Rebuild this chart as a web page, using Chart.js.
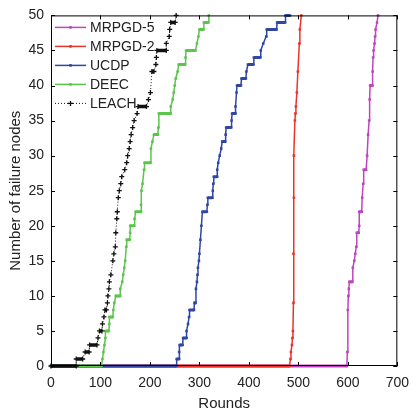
<!DOCTYPE html>
<html>
<head>
<meta charset="utf-8">
<script src="https://cdn.jsdelivr.net/npm/chart.js@4.4.1/dist/chart.umd.min.js"></script>
<style>
  html, body { margin: 0; padding: 0; background: #fff; }
  #wrap { width: 418px; height: 413px; }
</style>
</head>
<body>
<div id="wrap"><canvas id="grafico" width="418" height="413"></canvas></div>
<script>
// series: rounds where the count changes, and the number of failed nodes
const seriesNames = ["MRPGD-5", "MRPGD-2", "UCDP", "DEEC", "LEACH"];

const mrpgd5Rounds = [0, 598, 599, 600, 601, 602, 603, 609, 610, 613, 615, 617, 618, 622, 623, 623, 628, 629, 631, 632, 637, 639, 641, 643, 644, 645, 650, 650, 651, 652, 654, 655, 656, 659, 661];
const mrpgd5Failed = [0, 0, 2, 8, 10, 11, 12, 12, 14, 15, 16, 17, 19, 19, 20, 22, 22, 24, 26, 28, 28, 30, 33, 35, 38, 40, 40, 42, 44, 45, 46, 47, 48, 49, 50];

const mrpgd2Rounds = [0, 482, 484, 485, 487, 488, 489, 490, 490, 491, 491, 493, 494, 495, 497, 499, 502, 503, 506];
const mrpgd2Failed = [0, 0, 1, 2, 3, 4, 5, 9, 16, 24, 30, 35, 36, 37, 39, 42, 46, 48, 50];

const ucdpRounds = [0, 253, 254, 259, 259, 260, 266, 267, 274, 274, 277, 279, 280, 289, 290, 292, 293, 295, 296, 297, 299, 300, 302, 304, 306, 315, 316, 317, 326, 327, 328, 329, 336, 336, 338, 341, 344, 346, 352, 353, 354, 364, 365, 366, 373, 373, 375, 376, 384, 385, 394, 395, 398, 409, 410, 423, 424, 429, 435, 436, 456, 457, 473, 474, 483];
const ucdpFailed = [0, 0, 1, 1, 2, 3, 3, 4, 4, 5, 6, 7, 8, 8, 9, 9, 11, 12, 13, 14, 15, 16, 18, 20, 22, 22, 23, 24, 24, 25, 26, 27, 27, 28, 29, 30, 31, 32, 32, 33, 34, 34, 35, 36, 36, 37, 39, 40, 40, 41, 41, 42, 43, 43, 44, 44, 45, 46, 47, 48, 48, 49, 49, 50, 50];

const deecRounds = [0, 102, 104, 106, 108, 110, 110, 117, 118, 118, 125, 126, 128, 131, 140, 140, 144, 146, 148, 150, 152, 153, 159, 160, 160, 168, 169, 171, 182, 182, 183, 185, 188, 189, 201, 202, 205, 208, 216, 217, 218, 242, 242, 246, 248, 250, 252, 256, 258, 271, 272, 273, 292, 295, 298, 300, 308, 309, 318, 319];
const deecFailed = [0, 0, 1, 2, 3, 4, 5, 5, 6, 7, 7, 8, 9, 10, 10, 11, 12, 13, 14, 15, 17, 18, 18, 19, 20, 20, 21, 22, 22, 23, 25, 26, 28, 29, 29, 31, 32, 33, 33, 34, 36, 36, 37, 38, 39, 40, 41, 42, 43, 43, 44, 45, 45, 46, 47, 48, 48, 49, 49, 50];

const leachRounds = [0, 51, 51, 64, 69, 77, 78, 93, 95, 98, 103, 104, 107, 109, 112, 114, 115, 117, 118, 121, 125, 127, 130, 131, 133, 134, 136, 138, 141, 143, 149, 153, 155, 158, 160, 162, 165, 168, 174, 176, 193, 197, 201, 204, 208, 212, 213, 214, 233, 233, 239, 240, 242, 251, 253];
const leachFailed = [0, 0, 1, 1, 2, 2, 3, 3, 4, 5, 5, 6, 7, 8, 8, 9, 10, 11, 12, 13, 15, 16, 17, 19, 21, 22, 24, 25, 26, 27, 28, 29, 30, 31, 32, 33, 34, 35, 36, 37, 37, 38, 39, 42, 42, 43, 44, 45, 45, 46, 47, 48, 49, 49, 50];

const xTicks = [0, 100, 200, 300, 400, 500, 600, 700];
const yTicks = [0, 5, 10, 15, 20, 25, 30, 35, 40, 45, 50];

function puntos(rounds, failed) {
  return rounds.map((r, i) => ({ x: r, y: failed[i] }));
}

const fuente = '"Liberation Sans", Arial, sans-serif';

// thicker plateaus, like the dense markers of the original
function plano(ancho, normal) {
  return ctx => ctx.p0.parsed.y === ctx.p1.parsed.y ? ancho : normal;
}

function serie(label, rounds, failed, color, orden, extra) {
  return Object.assign({
    label,
    data: puntos(rounds, failed),
    borderColor: color,
    backgroundColor: color,
    borderWidth: 1.5,
    pointStyle: "rect",
    pointRadius: 1.8,
    pointBorderWidth: 0,
    pointBackgroundColor: color,
    tension: 0,
    order: orden,
    clip: 4,
    segment: { borderWidth: plano(3, 1.5) }
  }, extra || {});
}

const datasets = [
  serie(seriesNames[0], mrpgd5Rounds, mrpgd5Failed, "#bf45bf", 5),
  serie(seriesNames[1], mrpgd2Rounds, mrpgd2Failed, "#e8352b", 4),
  serie(seriesNames[2], ucdpRounds, ucdpFailed, "#2f46a3", 3),
  serie(seriesNames[3], deecRounds, deecFailed, "#5cc44c", 2),
  serie(seriesNames[4], leachRounds, leachFailed, "#111111", 1, {
    borderWidth: 1,
    borderDash: [1, 2],
    pointStyle: "cross",
    pointRadius: 2.5,
    pointBorderWidth: 1.3,
    pointBorderColor: "#111111",
    segment: {
      borderWidth: plano(3.5, 1),
      borderDash: ctx => ctx.p0.parsed.y === ctx.p1.parsed.y ? [] : [1, 2]
    }
  })
];

// box with inward ticks on all four sides
const marco = {
  id: "marco",
  afterDraw(chart) {
    const { ctx, chartArea: a, scales } = chart;
    ctx.save();
    ctx.strokeStyle = "#000";
    ctx.lineWidth = 1;
    ctx.strokeRect(a.left + 0.5, a.top + 0.5, a.right - a.left - 1, a.bottom - a.top - 1);
    ctx.beginPath();
    xTicks.forEach(v => {
      const x = Math.round(scales.x.getPixelForValue(v)) + 0.5;
      ctx.moveTo(x, a.bottom); ctx.lineTo(x, a.bottom - 4);
      ctx.moveTo(x, a.top); ctx.lineTo(x, a.top + 4);
    });
    yTicks.forEach(v => {
      const y = Math.round(scales.y.getPixelForValue(v)) + 0.5;
      ctx.moveTo(a.left, y); ctx.lineTo(a.left + 4, y);
      ctx.moveTo(a.right, y); ctx.lineTo(a.right - 4, y);
    });
    ctx.stroke();
    ctx.restore();
  }
};

// legend in the upper left corner of the plot
const leyenda = {
  id: "leyenda",
  afterDraw(chart) {
    const { ctx, chartArea: a } = chart;
    ctx.save();
    ctx.font = "14px " + fuente;
    ctx.textBaseline = "middle";
    chart.data.datasets.forEach((ds, i) => {
      const y = a.top + 12 + i * 19;
      const x0 = a.left + 4, x1 = a.left + 35, xm = (x0 + x1) / 2;
      ctx.strokeStyle = ds.borderColor;
      ctx.lineWidth = ds.pointStyle === "cross" ? 1 : 1.5;
      ctx.setLineDash(ds.pointStyle === "cross" ? [1, 2] : []);
      ctx.beginPath();
      ctx.moveTo(x0, y); ctx.lineTo(x1, y);
      ctx.stroke();
      ctx.setLineDash([]);
      if (ds.pointStyle === "cross") {
        ctx.lineWidth = 1.3;
        ctx.beginPath();
        ctx.moveTo(xm - 2.5, y); ctx.lineTo(xm + 2.5, y);
        ctx.moveTo(xm, y - 2.5); ctx.lineTo(xm, y + 2.5);
        ctx.stroke();
      } else {
        ctx.fillStyle = ds.borderColor;
        ctx.fillRect(xm - 1.3, y - 1.3, 2.6, 2.6);
      }
      ctx.fillStyle = "#222";
      ctx.fillText(ds.label, a.left + 39, y + 0.5);
    });
    ctx.restore();
  }
};

new Chart(document.getElementById("grafico").getContext("2d"), {
  type: "line",
  data: { datasets },
  options: {
    responsive: false,
    animation: false,
    layout: { padding: { left: 0, top: 10, right: 10, bottom: 0 } },
    plugins: {
      legend: { display: false },
      tooltip: { enabled: false }
    },
    scales: {
      x: {
        type: "linear",
        min: 0,
        max: 700,
        afterBuildTicks: s => { s.ticks = xTicks.map(v => ({ value: v })); },
        afterFit: s => { s.height = 47; },
        ticks: { padding: 9, color: "#222", font: { size: 14, family: fuente }, maxRotation: 0 },
        grid: { display: false, drawTicks: false },
        border: { display: false },
        title: { display: true, text: "Rounds", color: "#222", font: { size: 15, family: fuente }, padding: { top: 0, bottom: 0 } }
      },
      y: {
        min: 0,
        max: 50,
        afterBuildTicks: s => { s.ticks = yTicks.map(v => ({ value: v })); },
        afterFit: s => { s.width = 51; },
        ticks: { padding: 7, color: "#222", font: { size: 14, family: fuente } },
        grid: { display: false, drawTicks: false },
        border: { display: false },
        title: { display: true, text: "Number of failure nodes", color: "#222", font: { size: 15, family: fuente }, padding: { top: 7, bottom: 0 } }
      }
    }
  },
  plugins: [marco, leyenda]
});
</script>
</body>
</html>
